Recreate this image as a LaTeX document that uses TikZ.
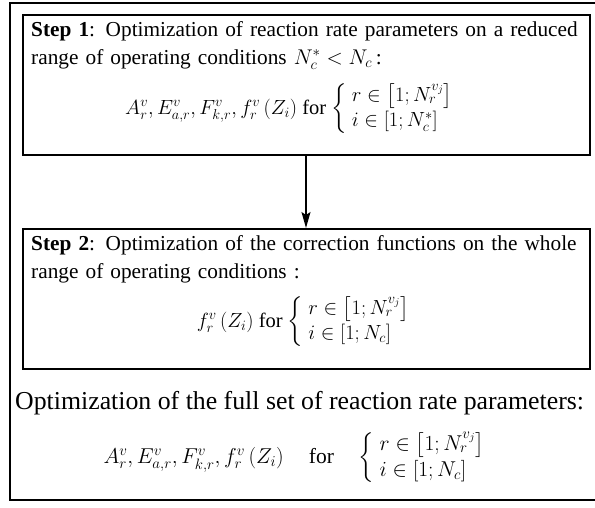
\RequirePackage{fix-cm}
\documentclass[tikz,border=0pt]{standalone}
\usepackage{amsmath}
\usepackage[no-math]{fontspec}
\setmainfont{Liberation Serif}
\usetikzlibrary{arrows.meta}
\begin{document}
\begin{tikzpicture}[x=1pt,y=-1pt,
  stepbox/.style={draw, line width=2pt, minimum width=567pt, inner sep=0pt},
  txt/.style={anchor=north west, text width=565pt, align=left, inner sep=0pt, font=\fontsize{21.3}{28}\selectfont},
  mth/.style={inner sep=0pt, font=\fontsize{20.5}{25}\selectfont},
  ]
\useasboundingbox (0,0) rectangle (595,507);
\draw[line width=1.6pt] (597,3) -- (10,3) -- (10,500) -- (597,500);
\node[stepbox, minimum height=140pt] (b1) at (306,85) {};
\node[stepbox, minimum height=140pt] (b2) at (306,299) {};
\node[txt] (t1) at (31,21) {\textbf{Step 1}: Optimization of reaction rate parameters on a reduced range of operating conditions $N_c^*<N_c$\,:};
\node[mth] (m1) at (292,109) {$A_r^v, E_{a,r}^v, F_{k,r}^v, f_r^v\left(Z_i\right)$ for $\left\{\begin{array}{l} r\in\left[1;N_r^{v_j}\right]\\ i\in\left[1;N_c^*\right]\end{array}\right.$};
\node[txt] (t2) at (31,235) {\textbf{Step 2}: Optimization of the correction functions on the whole range of operating conditions :};
\node[mth] (m2) at (306,322) {$f_r^v\left(Z_i\right)$ for $\left\{\begin{array}{l} r\in\left[1;N_r^{v_j}\right]\\ i\in\left[1;N_c\right]\end{array}\right.$};
\node[anchor=west, inner sep=0pt, font=\fontsize{25.8}{30}\selectfont] (t3) at (15,403) {Optimization of the full set of reaction rate parameters:};
\node[mth, font=\fontsize{21.5}{26}\selectfont] (m3) at (297,458) {$A_r^v, E_{a,r}^v, F_{k,r}^v, f_r^v\left(Z_i\right)\quad\text{for}\quad\left\{\begin{array}{l} r\in\left[1;N_r^{v_j}\right]\\ i\in\left[1;N_c\right]\end{array}\right.$};
\draw[line width=1.6pt, -{Stealth[length=16pt,width=9pt,inset=3pt]}] (b1.south) -- (b2.north);
\end{tikzpicture}
\end{document}
